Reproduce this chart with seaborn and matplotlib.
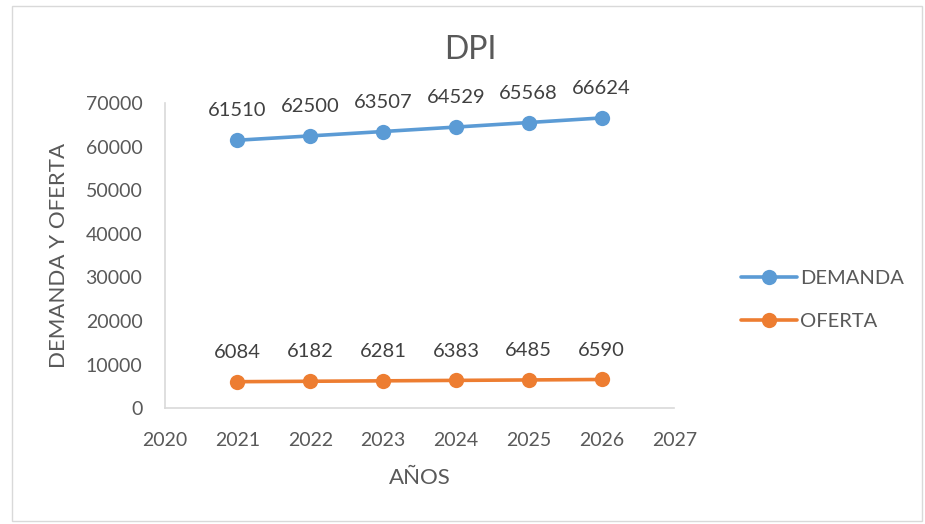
import numpy as np
import pandas as pd
import matplotlib.pyplot as plt
import seaborn as sns
from matplotlib.patches import Rectangle

years = [2021, 2022, 2023, 2024, 2025, 2026]
demanda = [61510, 62500, 63507, 64529, 65568, 66624]
oferta = [6084, 6182, 6281, 6383, 6485, 6590]

df = pd.DataFrame({
    "year": years * 2,
    "valor": demanda + oferta,
    "serie": ["DEMANDA"] * len(years) + ["OFERTA"] * len(years),
})

sns.set_style("white")
plt.rcParams['font.family'] = ['Lato', 'DejaVu Sans']

txt = "#595959"
colors = {"DEMANDA": "#5B9BD5", "OFERTA": "#ED7D31"}

fig = plt.figure(figsize=(9.25, 5.24), dpi=100)
ax = fig.add_axes([0.178, 0.221, 0.551, 0.582])

sns.lineplot(data=df, x="year", y="valor", hue="serie", palette=colors,
             marker="o", markersize=11, markeredgewidth=0, linewidth=2.6, ax=ax)

# etiquetas de datos
for s, vals in [("DEMANDA", demanda), ("OFERTA", oferta)]:
    for x, v in zip(years, vals):
        ax.annotate(str(v), (x, v), xytext=(0, 15), textcoords="offset points",
                    ha="center", va="bottom", fontsize=14.5, color="#404040")

ax.set_xlim(2020, 2027)
ax.set_ylim(0, 70000)
ax.set_xticks(range(2020, 2028))
ax.set_yticks(range(0, 70001, 10000))
ax.tick_params(axis="both", length=0, labelsize=14, labelcolor=txt)
ax.tick_params(axis="x", pad=17)
ax.tick_params(axis="y", pad=16)
ax.set_xlabel("AÑOS", fontsize=16, color=txt, labelpad=14)
ax.set_ylabel("DEMANDA Y OFERTA", fontsize=16, color=txt, labelpad=12)
fig.text(0.508, 0.905, "DPI", fontsize=23, color=txt, ha="center", va="center")

for side in ["top", "right"]:
    ax.spines[side].set_visible(False)
for side in ["left", "bottom"]:
    ax.spines[side].set_color("#D9D9D9")
    ax.spines[side].set_linewidth(1.2)

leg = ax.legend(loc="center left", bbox_to_anchor=(1.096, 0.354), frameon=False,
                fontsize=14.5, handlelength=2.75, handletextpad=0.15, labelspacing=1.3)
for t in leg.get_texts():
    t.set_color(txt)

fig.patches.append(Rectangle((0.013, 0.006), 0.984, 0.982, transform=fig.transFigure,
                             fill=False, edgecolor="#D9D9D9", linewidth=1))

fig.savefig("out.png", dpi=100)
